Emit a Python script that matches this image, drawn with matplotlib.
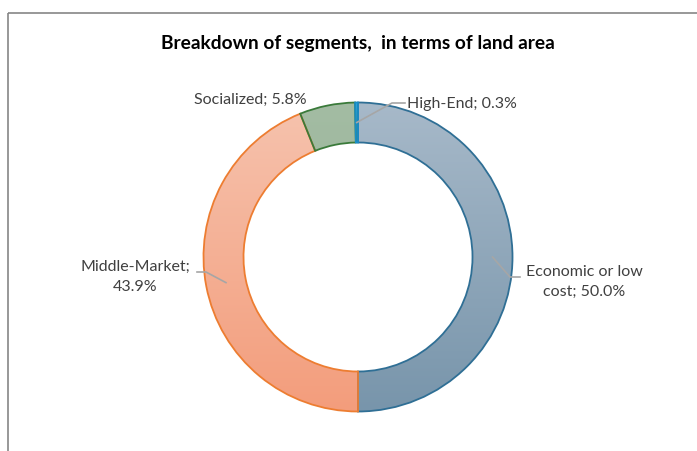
import numpy as np
import matplotlib.pyplot as plt
from matplotlib.patches import Wedge, Rectangle
from matplotlib.colors import LinearSegmentedColormap

# Data
segments = ['Economic or low\ncost', 'Middle-Market', 'Socialized', 'High-End']
shares = [50.0, 43.9, 5.8, 0.3]

# Style per segment: (top color, bottom color, edge color)
fills = [('#a7b9c9', '#7895ab', '#2f6f95'),
         ('#f6c3ae', '#f39d7c', '#ed7d31'),
         ('#a3bca3', '#93ae93', '#3a7a3a'),
         ('#2aa6de', '#2aa6de', '#1a8cc4')]
label_pos = [(584, 282), (135, 277), (250, 100), (462, 104)]
elbows = [(510, 278), (206, 273), None, (392, 104)]
ends = [(520, 278), (197, 273), None, (405, 104)]

W, H = 697, 452
fig = plt.figure(figsize=(W / 100, H / 100), dpi=100)
ax = fig.add_axes([0, 0, 1, 1])
ax.set_xlim(0, W)
ax.set_ylim(H, 0)
ax.set_aspect('equal')
ax.axis('off')

# chart frame
ax.add_patch(Rectangle((8, 14), W, H, fill=False, edgecolor='#868686', lw=1.2))

ax.text(358, 44, 'Breakdown of segments,  in terms of land area', ha='center',
        va='center', fontsize=13.8, fontweight='bold', family='Lato')

cx, cy, r, width = 358, 258, 154.5, 40
start = 90.0
total = sum(shares)
for i, (name, val) in enumerate(zip(segments, shares)):
    sweep = val / total * 360
    t2 = start
    t1 = start - sweep
    # y axis is inverted, so flip angles
    w = Wedge((cx, cy), r, -t2, -t1, width=width, facecolor='none',
              edgecolor=fills[i][2], lw=1.3, zorder=3)
    ax.add_patch(w)
    top, bot = fills[i][0], fills[i][1]
    cmap = LinearSegmentedColormap.from_list('g%d' % i, [top, bot])
    grad = np.linspace(0, 1, 256).reshape(-1, 1)
    im = ax.imshow(grad, cmap=cmap, extent=(cx - r, cx + r, cy + r, cy - r),
                   aspect='auto', zorder=2, interpolation='bilinear')
    clip = Wedge((cx, cy), r, -t2, -t1, width=width, transform=ax.transData)
    im.set_clip_path(clip)

    mid = np.deg2rad((t1 + t2) / 2)
    rm = r - width / 2
    px, py = cx + rm * np.cos(mid), cy - rm * np.sin(mid)
    if elbows[i] is not None:
        ax.plot([px, elbows[i][0], ends[i][0]], [py, elbows[i][1], ends[i][1]],
                color='#a6a6a6', lw=1.2, zorder=4)
    lab = name + ';%s%.1f%%' % ('\n' if name == 'Middle-Market' else ' ', val)
    ax.text(label_pos[i][0], label_pos[i][1], lab, ha='center', va='center',
            fontsize=11.5, family='Lato', color='#404040', linespacing=1.5,
            zorder=5)
    start = t1

ax.set_xlim(0, W)
ax.set_ylim(H, 0)
fig.savefig('out.png', dpi=100)
